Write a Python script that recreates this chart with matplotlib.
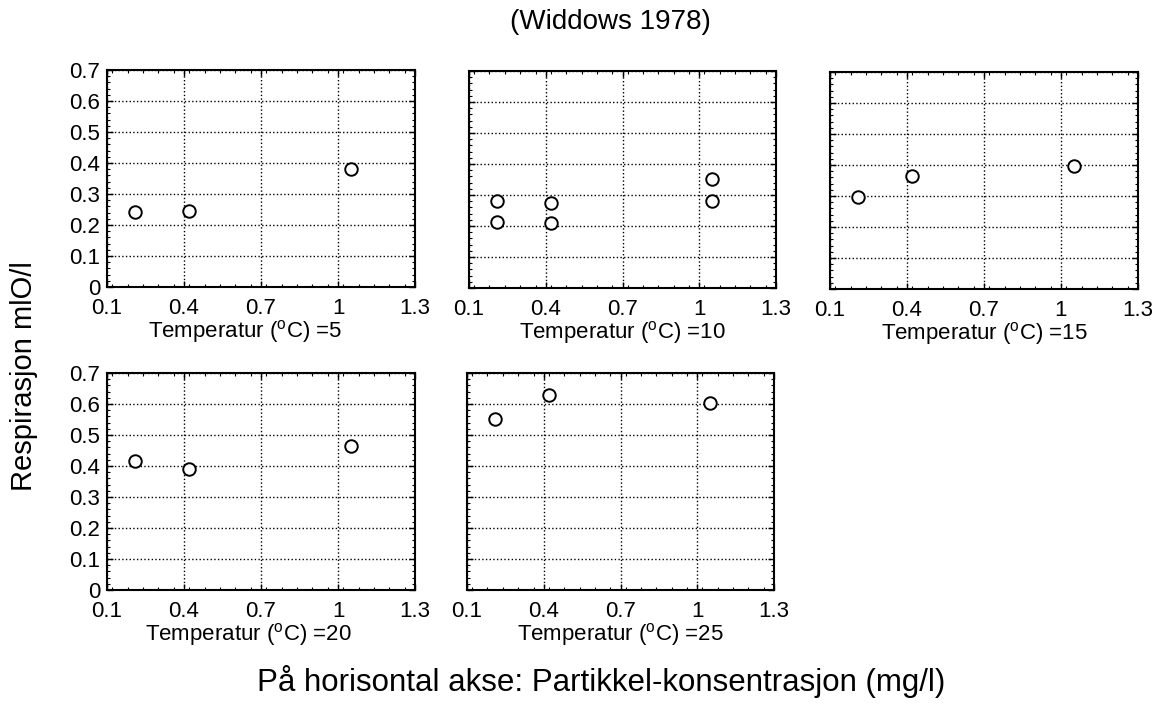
import numpy as np
import matplotlib
matplotlib.use("Agg")
import matplotlib.pyplot as plt
from matplotlib.ticker import MultipleLocator

plt.rcParams['font.family'] = ['Liberation Sans', 'DejaVu Sans']
plt.rcParams['mathtext.fontset'] = 'custom'
plt.rcParams['mathtext.rm'] = 'Liberation Sans'
plt.rcParams['mathtext.it'] = 'Liberation Sans'

# data per temperature panel
temps = [5, 10, 15, 20, 25]
x_t5 = [0.21, 0.42, 1.05]
y_t5 = [0.242, 0.245, 0.38]
x_t10 = [0.21, 0.21, 0.42, 0.42, 1.05, 1.05]
y_t10 = [0.282, 0.213, 0.274, 0.211, 0.352, 0.282]
x_t15 = [0.21, 0.42, 1.05]
y_t15 = [0.298, 0.366, 0.398]
x_t20 = [0.21, 0.42, 1.05]
y_t20 = [0.416, 0.391, 0.463]
x_t25 = [0.21, 0.42, 1.05]
y_t25 = [0.551, 0.63, 0.604]

xs = [x_t5, x_t10, x_t15, x_t20, x_t25]
ys = [y_t5, y_t10, y_t15, y_t20, y_t25]
xticks = [0.1, 0.4, 0.7, 1.0, 1.3]
xticklabels = ['0.1', '0.4', '0.7', '1', '1.3']
yticks = [0, 0.1, 0.2, 0.3, 0.4, 0.5, 0.6, 0.7]
yticklabels = ['0', '0.1', '0.2', '0.3', '0.4', '0.5', '0.6', '0.7']

W, H = 1160, 706
fig = plt.figure(figsize=(W / 100, H / 100), dpi=100)

# panel boxes in pixels: left, top, right, bottom
boxes = [
    (107, 70, 415, 287),
    (469, 71, 776, 288),
    (830, 72, 1138, 289),
    (107, 373, 415, 590),
    (467, 373, 774, 590),
]
label_x = [0.45, 0.5, 0.5, 0.46, 0.5]

for i, (l, t, r, b) in enumerate(boxes):
    ax = fig.add_axes([l / W, 1 - b / H, (r - l) / W, (b - t) / H])
    ax.plot(xs[i], ys[i], 'o', mfc='white', mec='black', ms=9, mew=1.4, zorder=3)
    ax.set_xlim(0.1, 1.3)
    ax.set_ylim(0, 0.7)
    ax.set_xticks(xticks)
    ax.set_xticklabels(xticklabels)
    ax.set_yticks(yticks)
    if i in (0, 3):
        ax.set_yticklabels(yticklabels)
    else:
        ax.set_yticklabels([])
    ax.xaxis.set_minor_locator(MultipleLocator(0.06))
    ax.yaxis.set_minor_locator(MultipleLocator(0.02))
    ax.tick_params(which='both', direction='in', top=True, right=True, labelsize=16)
    ax.tick_params(axis='x', pad=8)
    ax.tick_params(axis='y', pad=5)
    ax.tick_params(which='major', length=4, width=1)
    ax.tick_params(which='minor', length=2, width=0.8)
    ax.grid(True, which='major', ls=':', lw=1, color='black')
    for s in ax.spines.values():
        s.set_linewidth(1.5)
    ax.set_xlabel(r'Temperatur ($^{\mathrm{o}}$C) =%d' % temps[i], fontsize=16, labelpad=-1)
    ax.xaxis.label.set_x(label_x[i])

fig.text(610 / W, 1 - 22 / H, '(Widdows 1978)', ha='center', va='center', fontsize=20)
fig.text(24 / W, 1 - 376 / H, 'Respirasjon mlO/l', rotation=90, ha='center', va='center', fontsize=21)
fig.text(601 / W, 1 - 681 / H, 'På horisontal akse: Partikkel-konsentrasjon (mg/l)',
         ha='center', va='center', fontsize=22.5)

fig.savefig('out.png', dpi=100)
